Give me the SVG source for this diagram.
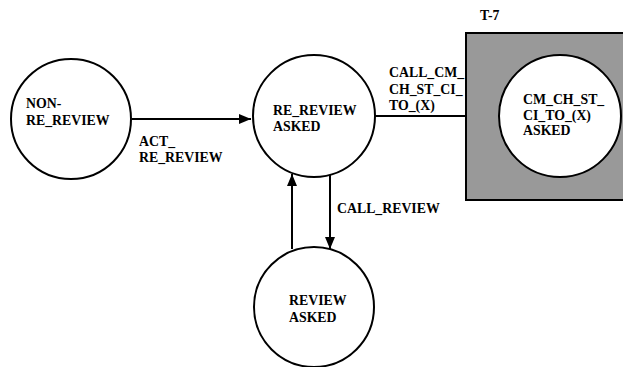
<svg xmlns="http://www.w3.org/2000/svg" width="623" height="367" viewBox="0 0 623 367">
<style>
.st{fill:#fff;stroke:#000;stroke-width:2}
.t{font-family:"Liberation Serif","Times New Roman",serif;font-weight:bold;font-size:13.8px;fill:#000}
.ln{stroke:#000;stroke-width:2;fill:none}
</style>
<defs>
<marker id="ah" viewBox="0 0 12 10" refX="12" refY="5" markerWidth="12" markerHeight="10" markerUnits="userSpaceOnUse" orient="auto">
<path d="M0,0 L12,5 L0,10 Z" fill="#000"/>
</marker>
</defs>
<rect width="623" height="367" fill="#fff"/>
<g id="T7">
<rect x="466" y="33" width="170" height="167" fill="#999" stroke="#000" stroke-width="2"/>
<text class="t" x="480" y="20">T-7</text>
</g>
<g id="connectors">
<line class="ln" x1="132" y1="119" x2="251" y2="119" marker-end="url(#ah)"/>
<line class="ln" x1="375" y1="116" x2="466" y2="116"/>
<line class="ln" x1="292" y1="249" x2="292" y2="174" marker-end="url(#ah)"/>
<line class="ln" x1="330" y1="175" x2="330" y2="249" marker-end="url(#ah)"/>
<text class="t" x="139" y="146">ACT_</text>
<text class="t" x="139" y="162">RE_REVIEW</text>
<text class="t" x="389" y="77">CALL_CM_</text>
<text class="t" x="389" y="94">CH_ST_CI_</text>
<text class="t" x="389" y="110">TO_(X)</text>
<text class="t" x="337" y="213">CALL_REVIEW</text>
</g>
<g id="nonReReview">
<circle class="st" cx="71" cy="119" r="60"/>
<text class="t" x="26" y="108">NON-</text>
<text class="t" x="26" y="125">RE_REVIEW</text>
</g>
<g id="reReviewAsked">
<circle class="st" cx="314" cy="116" r="61"/>
<text class="t" x="273" y="115">RE_REVIEW</text>
<text class="t" x="273" y="131">ASKED</text>
</g>
<g id="reviewAsked">
<circle class="st" cx="314" cy="307" r="60"/>
<text class="t" x="289" y="305">REVIEW</text>
<text class="t" x="289" y="322">ASKED</text>
</g>
<g id="cmAsked">
<circle class="st" cx="560" cy="116" r="61"/>
<text class="t" x="523" y="104">CM_CH_ST_</text>
<text class="t" x="523" y="120">CI_TO_(X)</text>
<text class="t" x="523" y="135">ASKED</text>
</g>
</svg>
